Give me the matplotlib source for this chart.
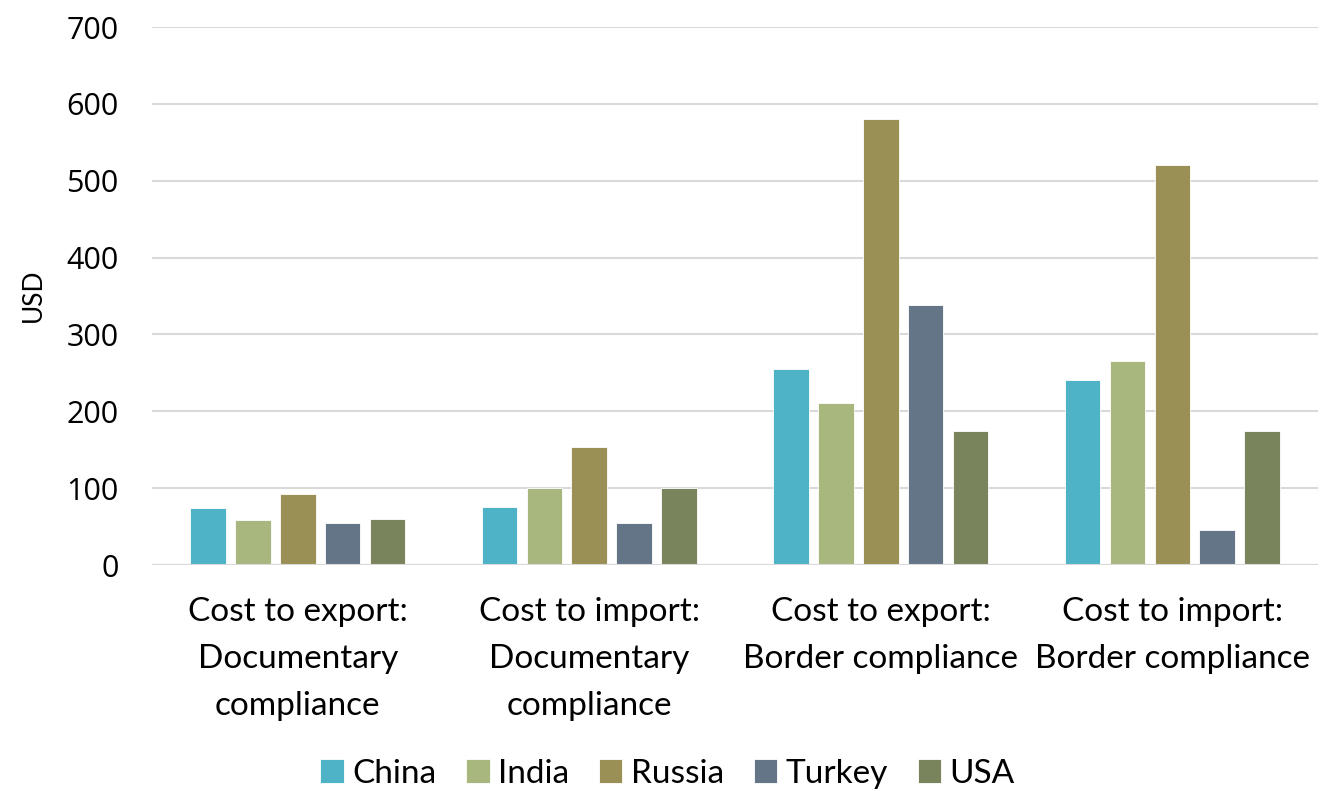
import matplotlib
matplotlib.use("Agg")
import matplotlib.pyplot as plt
import numpy as np

categories = [
    "Cost to export:\nDocumentary\ncompliance",
    "Cost to import:\nDocumentary\ncompliance",
    "Cost to export:\nBorder compliance",
    "Cost to import:\nBorder compliance",
]
countries = ["China", "India", "Russia", "Turkey", "USA"]
china = [74, 76, 255, 241]
india = [58, 100, 211, 266]
russia = [92, 153, 580, 520]
turkey = [55, 55, 338, 45]
usa = [60, 100, 175, 175]
series = [china, india, russia, turkey, usa]
colors = ["#4FB3C8", "#A7B77D", "#9A8F55", "#647588", "#7A845C"]
y_ticks = [0, 100, 200, 300, 400, 500, 600, 700]

fig = plt.figure(figsize=(13.22, 7.91), dpi=100)
ax = fig.add_axes([0.115, 0.2857, 0.882, 0.68])

x = np.arange(len(categories))
step = 0.154
width = 0.122
for i, (vals, name, c) in enumerate(zip(series, countries, colors)):
    offs = (i - 2) * step
    ax.bar(x + offs, vals, width=width, color=c, label=name, zorder=3,
           edgecolor="white", linewidth=0.6)

ax.set_xlim(-0.5, len(categories) - 0.5)
ax.set_ylim(0, 700)
ax.set_yticks(y_ticks)
ax.set_yticklabels([str(v) for v in y_ticks], fontsize=22, family="Open Sans")
ax.tick_params(axis="y", length=0, pad=24)
ax.set_xticks(x)
ax.set_xticklabels(categories, fontsize=24, family="Lato", linespacing=1.7)
ax.tick_params(axis="x", length=0, pad=23)
ax.grid(axis="y", color="#D9D9D9", linewidth=1.5, zorder=0)
for s in ax.spines.values():
    s.set_visible(False)
ax.axhline(0, color="#D9D9D9", linewidth=1.5, zorder=4)

fig.text(0.025, 0.627, "USD", rotation=90, fontsize=19, family="Lato",
         ha="center", va="center")

fig.legend(loc="center", bbox_to_anchor=(0.505, 0.022), ncol=5, frameon=False,
           prop={"family": "Lato", "size": 24},
           handlelength=0.7, handleheight=0.7, handletextpad=0.25,
           columnspacing=0.9)

fig.savefig("out.png", dpi=100)
